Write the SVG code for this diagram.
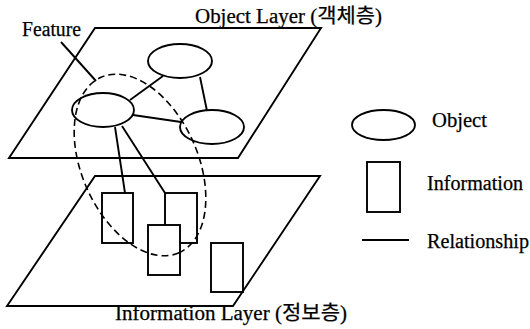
<svg xmlns="http://www.w3.org/2000/svg" width="530" height="329" viewBox="0 0 530 329">
<style>
.s{fill:none;stroke:#000;stroke-width:1.9;stroke-linejoin:miter}
.w{fill:#fff;stroke:#000;stroke-width:1.9}
.d{fill:none;stroke:#000;stroke-width:1.6;stroke-dasharray:7 4}
text{font-family:"Liberation Serif","Noto Sans CJK KR",serif;font-size:20px;fill:#000;stroke:#000;stroke-width:0.25}
</style>
<rect width="530" height="329" fill="#fff"/>
<g id="object-layer">
<polygon class="s" points="95,28 321,28 238,158 9,158"/>
<text x="195" y="23" textLength="187" lengthAdjust="spacingAndGlyphs">Object Layer (객체층)</text>
</g>
<g id="information-layer">
<polygon class="s" points="95,176 320,176 233,306 7,306"/>
<text x="115" y="320" textLength="232" lengthAdjust="spacingAndGlyphs">Information Layer (정보층)</text>
</g>
<g id="connectors">
<line class="s" x1="130" y1="100" x2="163" y2="76"/>
<line class="s" x1="200" y1="77" x2="207" y2="111"/>
<line class="s" x1="133" y1="115" x2="181" y2="122"/>
<line class="s" x1="115" y1="127" x2="125" y2="193"/>
<line class="s" x1="122" y1="126" x2="165" y2="193"/>
</g>
<g id="obj-top"><ellipse class="s" cx="180" cy="61" rx="32" ry="17"/></g>
<g id="obj-left"><ellipse class="s" cx="103" cy="110" rx="31" ry="17"/></g>
<g id="obj-right"><ellipse class="s" cx="212" cy="127" rx="32" ry="17"/></g>
<g id="info-1"><rect class="s" x="102" y="193" width="31" height="50"/></g>
<g id="info-2"><rect class="s" x="165" y="193" width="32" height="50"/></g>
<g id="info-3"><rect class="w" x="148" y="225" width="32" height="50"/></g>
<g id="info-4"><rect class="s" x="211" y="243" width="32" height="49"/></g>
<g id="feature">
<ellipse class="d" cx="0" cy="0" rx="96" ry="58" transform="translate(140,165) rotate(66)"/>
<line class="s" x1="61" y1="42" x2="96" y2="81"/>
<text x="22" y="36" textLength="59" lengthAdjust="spacingAndGlyphs">Feature</text>
</g>
<g id="legend">
<ellipse class="s" cx="383.5" cy="125" rx="31.5" ry="15"/>
<text x="432" y="127" textLength="55" lengthAdjust="spacingAndGlyphs">Object</text>
<rect class="s" x="367" y="162" width="33" height="50"/>
<text x="427" y="190" textLength="96" lengthAdjust="spacingAndGlyphs">Information</text>
<line class="s" x1="362" y1="240" x2="409" y2="240"/>
<text x="427" y="248" textLength="102" lengthAdjust="spacingAndGlyphs">Relationship</text>
</g>
</svg>
